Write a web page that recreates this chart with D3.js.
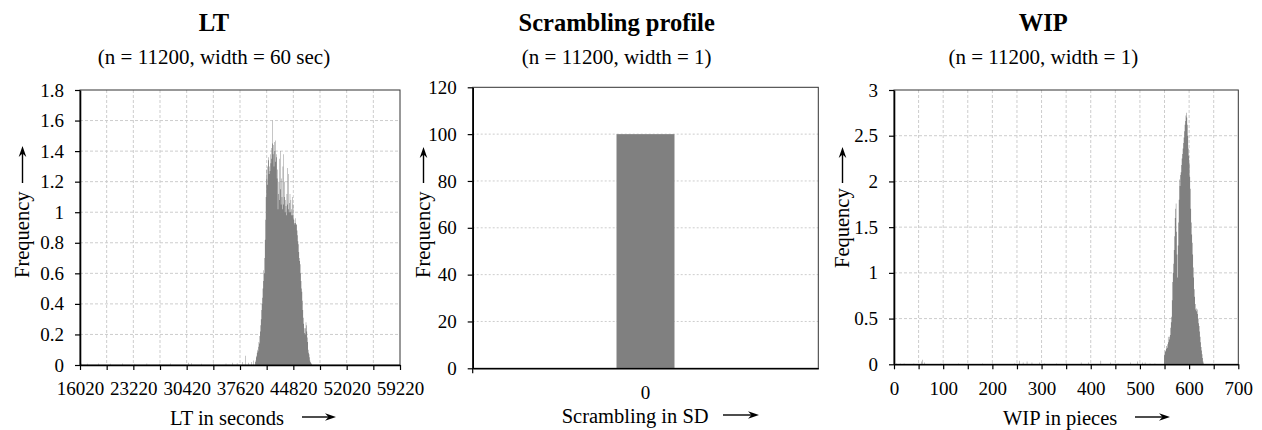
<!DOCTYPE html>
<html>
<head>
<meta charset="utf-8">
<script src="https://cdn.jsdelivr.net/npm/d3@7"></script>
<style>
  body { margin: 0; background: #fff; }
  svg text { font-family: "Liberation Serif", "Times New Roman", serif; fill: #000; }
</style>
</head>
<body>
<svg id="chart" width="1262" height="430"></svg>
<script>
// --- LT histogram (60 sec bins)
const ltBinStart = 39660;
const ltBinWidth = 60;
const ltFreq = [
  0.03,0.02,0.05, 0.06,0.08,0.10, 0.09,0.12,0.15, 0.14,0.19,0.22, 0.26,0.30,0.36,
  0.40,0.44,0.50, 0.62,0.55,0.60, 0.70,0.82,0.95, 1.10,1.28,1.22, 1.30,1.18,1.34,
  1.36,1.25,1.30, 1.27,1.38,1.32, 1.42,1.35,1.45, 1.60,1.38,1.44, 1.30,1.46,1.40,
  1.47,1.33,1.38, 1.36,1.22,1.28, 1.02,1.12,1.20, 1.35,1.08,1.40, 1.15,1.05,1.22,
  1.10,1.02,1.30, 1.38,1.05,1.10, 1.20,1.00,1.08, 1.04,0.98,1.12, 1.05,1.29,1.02,
  1.25,1.00,1.06, 1.12,1.00,1.08, 1.02,0.98,1.10, 0.98,1.05,0.96, 0.95,0.93,0.92,
  0.96,0.93,0.92, 0.92,0.88,0.85, 0.81,0.79,0.74, 0.70,0.68,0.66, 0.60,0.55,0.50,
  0.48,0.42,0.36, 0.31,0.27,0.24, 0.21,0.20,0.24, 0.28,0.26,0.22, 0.18,0.15,0.10,
  0.08,0.07,0.05, 0.03,0.02,0.015, 0.01,0.005
];
// sparse tail [seconds, frequency]
const ltTail = [
  [16140,0.01],[17040,0.008],[18480,0.01],[20100,0.008],[21720,0.01],[23400,0.008],
  [25020,0.01],[26700,0.008],[28200,0.01],[30660,0.015],[31020,0.012],[32400,0.008],
  [34020,0.01],[35700,0.01],[36540,0.015],[37200,0.012],[37920,0.02],[38340,0.06],
  [38760,0.015],[39120,0.02],[39420,0.03]
];
const ltXTicks = [16020,19620,23220,26820,30420,34020,37620,41220,44820,48420,52020,55620,59220];
const ltXLabels = [16020,23220,30420,37620,44820,52020,59220];
const ltYTicks = [0,0.2,0.4,0.6,0.8,1,1.2,1.4,1.6,1.8];

// --- Scrambling profile
const scrCategories = ["0"];
const scrValues = [100];
const scrYTicks = [0,20,40,60,80,100,120];

// --- WIP histogram (width 1)
const wipBinStart = 549;
const wipBinWidth = 1;
const wipFreq = [
  0.10,0.12,0.15,0.14,0.17,0.20,0.18,0.22,0.30,0.24,
  0.27,0.30,0.32,0.40,0.46,0.52,0.70,0.90,1.00,1.10,
  1.25,1.40,1.60,1.70,1.76,1.45,1.20,0.95,1.30,1.55,
  1.80,2.02,1.95,2.07,2.10,2.18,2.25,2.30,2.36,2.42,
  2.48,2.55,2.62,2.66,2.72,2.75,2.70,2.62,2.50,2.36,
  2.28,2.20,2.05,1.92,1.70,1.55,1.42,1.33,1.20,1.06,
  0.95,0.82,0.74,0.66,0.60,0.61,0.58,0.60,0.55,0.50,
  0.45,0.42,0.36,0.30,0.24,0.19,0.15,0.11,0.07,0.03,
  0.01
];
const wipTail = [
  [5,0.01],[12,0.01],[20,0.01],[40,0.01],[55,0.03],[58,0.05],[62,0.02],[95,0.01],
  [100,0.01],[130,0.01],[180,0.01],[200,0.01],[245,0.01],[255,0.04],[262,0.02],
  [270,0.03],[280,0.02],[295,0.02],[305,0.01],[330,0.01],[350,0.01],[380,0.02],
  [395,0.02],[420,0.04],[440,0.02],[455,0.01],[480,0.02],[495,0.03],[505,0.02],
  [510,0.02],[520,0.01],[530,0.01]
];
const wipXTicks = [0,50,100,150,200,250,300,350,400,450,500,550,600,650,700];
const wipXLabels = [0,100,200,300,400,500,600,700];
const wipYTicks = [0,0.5,1,1.5,2,2.5,3];

// --- drawing
const svg = d3.select("#chart");
const fontFam = '"Liberation Serif", "Times New Roman", serif';
const tickFont = 19;
const labelFont = 20.5;
const barGray = "#808080";
const gridGray = "#cdcdcd";

function styleAxis(sel) {
  sel.attr("font-family", fontFam).attr("font-size", tickFont);
  sel.select(".domain").attr("stroke", "#000").attr("stroke-width", 1.6);
  sel.selectAll(".tick line").attr("stroke", "#000").attr("stroke-width", 1.2);
  sel.selectAll(".tick text").attr("fill", "#000");
}

function arrowRight(g, x1, x2, y) {
  g.append("line").attr("x1", x1).attr("x2", x2 - 6).attr("y1", y).attr("y2", y)
    .attr("stroke", "#000").attr("stroke-width", 1.4);
  g.append("path").attr("d", `M${x2},${y} L${x2 - 11},${y - 3.8} L${x2 - 7.5},${y} L${x2 - 11},${y + 3.8} Z`)
    .attr("fill", "#000");
}

function arrowUp(g, x, y1, y2) {
  g.append("line").attr("x1", x).attr("x2", x).attr("y1", y1).attr("y2", y2 + 6)
    .attr("stroke", "#000").attr("stroke-width", 1.4);
  g.append("path").attr("d", `M${x},${y2} L${x - 3.8},${y2 + 11} L${x},${y2 + 7.5} L${x + 3.8},${y2 + 11} Z`)
    .attr("fill", "#000");
}

function titles(cx, title, sub) {
  svg.append("text").attr("x", cx).attr("y", 30.5).attr("text-anchor", "middle")
    .attr("font-size", 24.5).attr("font-weight", "bold").text(title);
  svg.append("text").attr("x", cx).attr("y", 63.5).attr("text-anchor", "middle")
    .attr("font-size", 21).text(sub);
}

function yLabel(g, text, x, yStart, arrowX, arrowY1, arrowY2) {
  g.append("text").attr("transform", `translate(${x},${yStart}) rotate(-90)`)
    .attr("font-size", labelFont).text(text);
  arrowUp(g, arrowX, arrowY1, arrowY2);
}

function xLabel(g, text, x, y, ax1, ax2) {
  g.append("text").attr("x", x).attr("y", y).attr("font-size", labelFont).text(text);
  arrowRight(g, ax1, ax2, y - 8);
}

function histPanel(p) {
  const g = svg.append("g");
  const x = d3.scaleLinear().domain(p.xDomain).range([p.x0, p.x1]);
  const y = d3.scaleLinear().domain(p.yDomain).range([p.y1, p.y0]);

  // grid
  g.append("g").selectAll("line").data(p.xTicks.slice(1, -1)).join("line")
    .attr("x1", d => x(d)).attr("x2", d => x(d)).attr("y1", p.y0).attr("y2", p.y1)
    .attr("stroke", gridGray).attr("stroke-dasharray", "3,2");
  g.append("g").selectAll("line").data(p.yTicks.slice(1, -1)).join("line")
    .attr("x1", p.x0).attr("x2", p.x1).attr("y1", d => y(d)).attr("y2", d => y(d))
    .attr("stroke", gridGray).attr("stroke-dasharray", "3,2");

  // bins as one path so neighbouring bins don't leave seams
  const path = d3.path();
  p.bins.forEach(b => {
    const xa = x(b[0]), xb = x(b[0] + p.binWidth);
    path.rect(xa, y(b[1]), xb - xa, y(0) - y(b[1]));
  });
  g.append("path").attr("d", path.toString()).attr("fill", barGray);

  // frame
  g.append("rect").attr("x", p.x0).attr("y", p.y0).attr("width", p.x1 - p.x0).attr("height", p.y1 - p.y0)
    .attr("fill", "none").attr("stroke", "#333").attr("stroke-width", 1);

  // axes
  g.append("g").attr("transform", `translate(0,${p.y1})`)
    .call(d3.axisBottom(x).tickValues(p.xTicks).tickSizeInner(5).tickSizeOuter(0).tickPadding(12)
      .tickFormat(d => p.xLabels.includes(d) ? d : ""))
    .call(styleAxis);
  g.append("g").attr("transform", `translate(${p.x0},0)`)
    .call(d3.axisLeft(y).tickValues(p.yTicks).tickSizeInner(5).tickSizeOuter(0).tickPadding(11)
      .tickFormat(d => String(d)))
    .call(styleAxis);
  return g;
}

// LT
titles(214, "LT", "(n = 11200, width = 60 sec)");
const g1 = histPanel({
  x0: 80, x1: 400, y0: 90, y1: 365,
  xDomain: [16020, 59220], yDomain: [0, 1.8],
  xTicks: ltXTicks, xLabels: ltXLabels, yTicks: ltYTicks,
  binWidth: ltBinWidth,
  bins: ltTail.concat(ltFreq.map((f, i) => [ltBinStart + i * ltBinWidth, f]))
});
yLabel(g1, "Frequency", 29, 278, 22.5, 183, 146);
xLabel(g1, "LT in seconds", 170, 425, 302, 336);

// Scrambling profile
titles(616.7, "Scrambling profile", "(n = 11200, width = 1)");
{
  const p = { x0: 472.7, x1: 818.3, y0: 87.3, y1: 368.3 };
  const g = svg.append("g");
  const x = d3.scaleBand().domain(scrCategories).range([p.x0, p.x1]).paddingInner(0).paddingOuter(2.48);
  const y = d3.scaleLinear().domain([0, 120]).range([p.y1, p.y0]);

  g.append("g").selectAll("line").data(scrYTicks.slice(1, -1)).join("line")
    .attr("x1", p.x0).attr("x2", p.x1).attr("y1", d => y(d)).attr("y2", d => y(d))
    .attr("stroke", gridGray).attr("stroke-dasharray", "2,2");

  g.append("g").selectAll("rect").data(scrValues).join("rect")
    .attr("x", (d, i) => x(scrCategories[i])).attr("width", x.bandwidth())
    .attr("y", d => y(d)).attr("height", d => y(0) - y(d))
    .attr("fill", barGray);

  g.append("rect").attr("x", p.x0).attr("y", p.y0).attr("width", p.x1 - p.x0).attr("height", p.y1 - p.y0)
    .attr("fill", "none").attr("stroke", "#333").attr("stroke-width", 1);

  g.append("g").attr("transform", `translate(0,${p.y1})`)
    .call(d3.axisBottom(x).tickSizeInner(0).tickSizeOuter(0).tickPadding(17))
    .call(styleAxis);
  g.append("line").attr("x1", p.x0).attr("x2", p.x0).attr("y1", p.y1).attr("y2", p.y1 + 5)
    .attr("stroke", "#000").attr("stroke-width", 1.2);
  g.append("g").attr("transform", `translate(${p.x0},0)`)
    .call(d3.axisLeft(y).tickValues(scrYTicks).tickSizeInner(5).tickSizeOuter(0).tickPadding(11))
    .call(styleAxis);

  yLabel(g, "Frequency", 430, 278, 423.5, 183, 147);
  xLabel(g, "Scrambling in SD", 561.7, 423, 723, 759);
}

// WIP
titles(1043.3, "WIP", "(n = 11200, width = 1)");
const g3 = histPanel({
  x0: 894, x1: 1238.3, y0: 90, y1: 364.3,
  xDomain: [0, 700], yDomain: [0, 3],
  xTicks: wipXTicks, xLabels: wipXLabels, yTicks: wipYTicks,
  binWidth: wipBinWidth,
  bins: wipTail.concat(wipFreq.map((f, i) => [wipBinStart + i * wipBinWidth, f]))
});
yLabel(g3, "Fequency", 849, 268, 842.5, 183, 147);
xLabel(g3, "WIP in pieces", 1003, 425, 1135, 1170);
</script>
</body>
</html>
